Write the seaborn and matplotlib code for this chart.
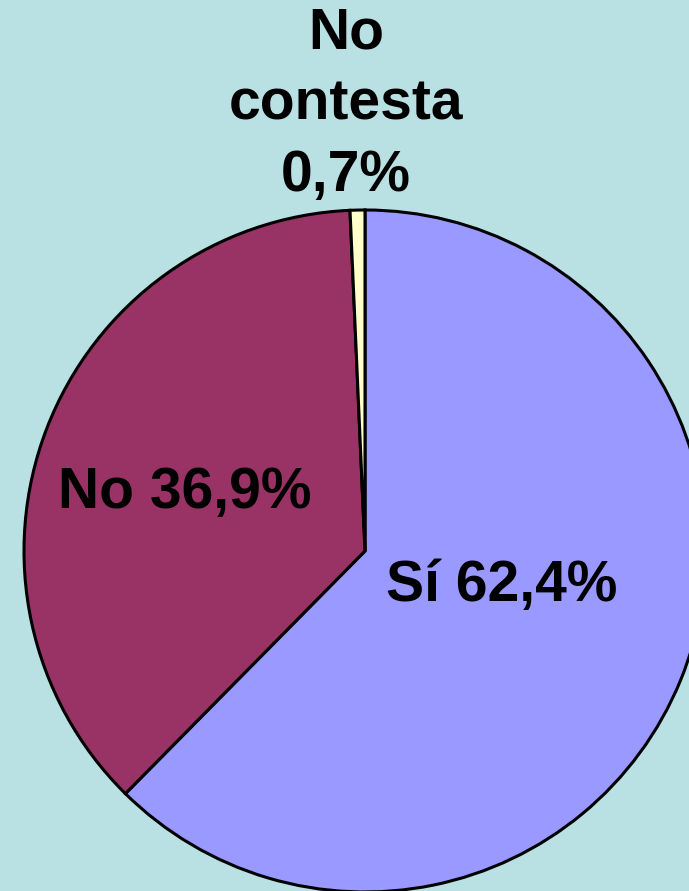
import matplotlib
matplotlib.use("Agg")
import matplotlib.pyplot as plt
import seaborn as sns

# Datos
categorias = ["Sí", "No", "No contesta"]
porcentajes = [62.4, 36.9, 0.7]
etiquetas = ["Sí 62,4%", "No 36,9%", "No\ncontesta\n0,7%"]
colores = ["#9999FF", "#993366", "#FFFFCC"]

sns.set_style("white")
plt.rcParams['font.family'] = ['Liberation Sans', 'DejaVu Sans']

FONDO = "#B9E0E3"
fig = plt.figure(figsize=(6.89, 8.91), dpi=100, facecolor=FONDO)
ax = fig.add_axes([0, 0, 1, 1])
ax.set_facecolor(FONDO)

# Centro y radio en pixeles (eje 1 unidad = 1 px)
cx, cy, r = 365, 340, 341
wedges, _ = ax.pie(porcentajes, colors=sns.color_palette(colores), startangle=90,
                   counterclock=False, center=(cx, cy), radius=r,
                   wedgeprops=dict(edgecolor="black", linewidth=2.2))

ax.set_xlim(0, 689)
ax.set_ylim(0, 891)
ax.set_aspect("equal")
ax.axis("off")

# Etiquetas
kw = dict(fontsize=41, fontweight="bold", color="black", ha="center", va="center")
ax.text(cx + 137, cy - 35, etiquetas[0], **kw)
ax.text(cx - 180, cy + 58, etiquetas[1], **kw)
ax.text(cx - 19, cy + 446, etiquetas[2], linespacing=1.41, **kw)

fig.savefig("out.png", dpi=100, facecolor=FONDO)
